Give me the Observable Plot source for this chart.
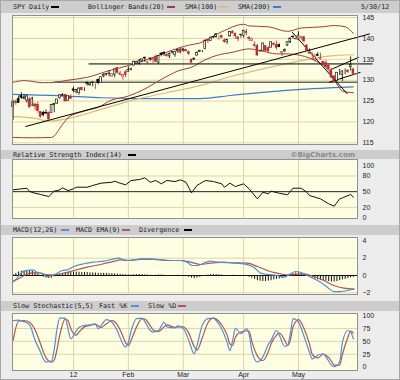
<!DOCTYPE html>
<html><head><meta charset="utf-8">
<script src="https://cdn.jsdelivr.net/npm/d3@7"></script>
<script src="https://cdn.jsdelivr.net/npm/@observablehq/plot@0.6"></script>
<style>
body{margin:0;background:#fff}
#wrap{position:relative;width:400px;height:380px;background:#ececec;overflow:hidden}
.bar{position:absolute;left:1px;width:398px;background:#cdcdcd;font-family:"DejaVu Sans Mono",monospace;font-size:6.7px;color:#1a1a1a}
.t{position:absolute;top:50%;transform:translateY(-50%);white-space:nowrap;line-height:1}
.sw{position:absolute;top:50%;height:2px;width:8px;margin-top:-1px}
.panel{position:absolute;left:0}
#border{position:absolute;left:0;top:0;width:398px;height:378px;border:1px solid #a8a8a8;pointer-events:none}
</style></head>
<body>
<div id="wrap">
  <div class="bar" style="top:0;height:13px">
    <span class="t" style="left:12px">SPY Daily</span><span class="sw" style="left:50px;background:#000"></span>
    <span class="t" style="left:87px">Bollinger Bands(20)</span><span class="sw" style="left:166px;background:#a03c3c"></span>
    <span class="t" style="left:184px">SMA(100)</span><span class="sw" style="left:218px;background:#d9bc78"></span>
    <span class="t" style="left:237px">SMA(200)</span><span class="sw" style="left:272px;background:#3d7cc9"></span>
    <span class="t" style="left:360px">5/30/12</span>
  </div>
  <div class="bar" style="top:150px;height:9px">
    <span class="t" style="left:12px">Relative Strength Index(14)</span><span class="sw" style="left:127px;background:#000"></span>
    <span class="t" style="right:44px;font-family:'DejaVu Sans',sans-serif;font-weight:bold;font-size:7px;color:#8a8a8a">©BigCharts.com</span>
  </div>
  <div class="bar" style="top:225px;height:10px">
    <span class="t" style="left:12px">MACD(12,26)</span><span class="sw" style="left:60px;background:#4f8fd8"></span>
    <span class="t" style="left:75px">MACD EMA(9)</span><span class="sw" style="left:121px;background:#b05555"></span>
    <span class="t" style="left:138px">Divergence</span><span class="sw" style="left:183px;background:#000"></span>
  </div>
  <div class="bar" style="top:301px;height:10px">
    <span class="t" style="left:12px">Slow Stochastic(5,5)</span>
    <span class="t" style="left:98px">Fast %K</span><span class="sw" style="left:130px;background:#4f8fd8"></span>
    <span class="t" style="left:147px">Slow %D</span><span class="sw" style="left:177px;background:#b05555"></span>
  </div>
  <div id="p1" class="panel" style="top:15px"></div>
  <div id="p2" class="panel" style="top:159px"></div>
  <div id="p3" class="panel" style="top:237px"></div>
  <div id="p4" class="panel" style="top:313px"></div>
  <div id="border"></div>
</div>
<script>
// ---------- data ----------
const dates = ["11/30",
"12/1","12/2","12/5","12/6","12/7","12/8","12/9","12/12","12/13","12/14","12/15","12/16","12/19","12/20","12/21","12/22","12/23","12/27","12/28","12/29","12/30",
"1/3","1/4","1/5","1/6","1/9","1/10","1/11","1/12","1/13","1/17","1/18","1/19","1/20","1/23","1/24","1/25","1/26","1/27","1/30","1/31",
"2/1","2/2","2/3","2/6","2/7","2/8","2/9","2/10","2/13","2/14","2/15","2/16","2/17","2/21","2/22","2/23","2/24","2/27","2/28","2/29",
"3/1","3/2","3/5","3/6","3/7","3/8","3/9","3/12","3/13","3/14","3/15","3/16","3/19","3/20","3/21","3/22","3/23","3/26","3/27","3/28","3/29","3/30",
"4/2","4/3","4/4","4/5","4/9","4/10","4/11","4/12","4/13","4/16","4/17","4/18","4/19","4/20","4/23","4/24","4/25","4/26","4/27","4/30",
"5/1","5/2","5/3","5/4","5/7","5/8","5/9","5/10","5/11","5/14","5/15","5/16","5/17","5/18","5/21","5/22","5/23","5/24","5/25","5/29","5/30"];

const open = [123.5,
124.8,125.5,126.2,125.6,125.1,125.4,123.9,124.2,124.1,122.4,
122.2,122.2,122.2,122.1,124.0,124.4,125.7,126.2,126.5,125.0,
126.0,
127.8,127.2,127.0,128.2,128.0,129.4,128.8,129.4,128.8,130.1,
129.3,130.9,131.2,131.6,130.9,131.3,132.9,131.2,130.9,131.9,
132.0,132.5,133.5,133.9,134.0,134.7,135.4,134.2,135.0,134.9,
135.6,134.2,136.4,136.5,136.0,135.7,136.7,136.0,136.9,137.4,
137.0,137.2,136.7,134.9,134.9,135.9,136.8,137.0,137.5,139.7,
139.4,140.2,140.3,140.5,140.6,139.5,139.2,140.5,141.6,141.1,
139.8,140.9,
140.6,141.6,140.2,139.4,138.4,138.2,136.9,137.0,138.2,137.7,
137.8,138.7,138.4,138.4,136.5,136.9,138.3,139.0,140.3,139.9,
139.7,140.1,140.3,138.3,136.4,136.3,135.0,136.1,135.0,134.4,
134.1,133.5,132.5,130.9,129.9,132.0,131.3,132.3,132.2,133.1,
132.6];
const high = [125.2,
125.3,126.2,127.0,126.6,126.5,125.8,125.9,124.4,124.8,122.5,
122.6,122.9,122.4,124.2,124.4,125.4,126.5,126.8,126.6,126.3,
126.5,
128.4,127.8,128.2,128.2,128.2,129.6,129.4,129.6,129.1,130.3,
130.7,131.6,131.6,132.3,131.5,132.7,133.1,132.1,131.3,132.3,
133.2,132.9,134.6,134.5,134.9,135.0,135.5,134.5,135.3,135.3,
136.0,135.9,136.5,136.9,136.3,136.5,136.8,137.0,137.3,137.9,
137.6,137.4,137.0,135.1,135.3,136.8,137.2,137.1,139.6,139.9,
140.3,140.5,141.2,140.6,140.8,139.9,139.7,141.6,141.9,141.3,
140.4,141.0,
142.0,142.2,140.4,140.1,139.2,138.6,137.2,138.9,138.2,138.0,
139.2,139.0,139.4,138.7,136.8,137.5,139.1,140.1,140.7,140.1,
141.6,140.5,140.5,138.6,137.5,136.5,136.2,136.6,136.5,134.6,
134.7,134.0,132.8,131.1,131.8,132.6,132.2,132.7,132.6,135.6,
132.7];
const low = [120.4,
124.0,124.4,125.4,125.3,124.5,123.3,123.8,122.7,122.1,120.9,
121.2,121.7,120.3,122.0,122.2,124.2,125.4,126.0,124.8,124.9,
125.5,
127.0,126.7,126.4,127.4,127.3,128.6,128.5,128.4,127.8,128.9,
129.2,130.6,131.0,130.8,130.7,130.6,131.5,131.0,130.0,130.6,
131.9,132.2,133.4,133.7,133.6,134.2,134.3,133.8,134.5,133.9,
134.2,133.8,135.6,135.7,135.5,135.2,136.3,135.5,136.4,136.3,
136.7,136.8,135.9,134.1,134.7,135.8,136.6,136.6,137.3,138.8,
139.3,140.0,140.1,139.6,140.0,138.8,138.6,140.3,141.1,139.9,
139.2,140.1,
140.1,140.6,139.3,139.2,137.9,135.8,136.6,136.9,136.9,136.4,
137.7,138.2,137.2,137.8,135.7,136.6,138.1,138.8,139.8,139.6,
139.5,139.6,138.9,137.0,136.3,134.9,134.4,135.7,134.8,133.6,
132.9,132.4,130.5,129.3,129.6,131.1,129.7,131.3,131.6,132.2,
131.2];
const close = [124.9,
124.5,124.5,125.8,125.9,126.1,123.5,125.6,123.7,122.6,121.2,
121.6,122.0,120.6,124.1,124.3,125.4,126.4,126.5,124.9,126.3,
125.5,
127.5,127.7,128.0,127.6,128.0,129.1,129.2,129.5,128.8,129.3,
130.7,131.3,131.5,131.5,131.4,132.6,131.8,131.6,131.3,131.2,
132.4,132.6,134.4,134.4,134.7,135.0,135.2,134.3,135.2,135.1,
134.4,135.8,136.1,136.2,135.8,136.3,136.6,136.7,137.2,136.6,
137.4,136.9,136.3,134.2,135.2,136.5,137.0,137.0,139.5,139.4,
140.2,140.4,141.0,140.5,140.2,139.2,139.7,141.6,141.2,140.5,
140.3,140.8,
141.8,141.3,139.9,139.8,138.2,135.9,136.9,138.8,137.0,136.9,
139.1,138.5,137.7,137.9,136.7,137.2,139.1,140.0,140.4,139.8,
140.7,140.3,139.3,137.0,137.0,136.4,135.5,135.8,135.3,133.8,
133.1,132.6,130.6,129.7,131.8,132.0,132.1,132.3,132.0,133.6,
131.5];

// Bollinger bands (20), read at sample days
const bbUpperDays = [0,4,11,15,20,27,35,42,50,58,64,68,76,84,86,93,100,105,113,117,121,124];
const bbUpper     = [129.5,129.9,129.4,129.5,130.0,130.7,132.3,133.5,135.2,137.2,138.4,138.9,141.6,143.4,143.0,142.8,141.7,142.5,142.8,143.1,142.8,141.2];
const bbLowerDays = [0,7,14,18,20,26,32,35,42,48,54,60,66,68,74,80,86,90,96,100,105,110,115,118,120,124];
const bbLower     = [116.3,116.2,116.3,119.4,121.0,122.6,123.8,125.0,126.2,127.9,130.2,132.2,133.4,134.2,135.9,136.7,137.5,137.1,136.3,136.3,135.9,134.7,132.3,129.1,127.4,127.0];
// moving averages
const sma100Days = [0,8,13,20,32,44,56,68,80,93,105,117,124];
const sma100     = [121.3,120.9,120.2,120.8,123.0,125.3,127.0,128.7,131.0,133.0,134.7,135.9,136.1];
const sma200Days = [0,20,32,44,68,80,93,105,117,124];
const sma200     = [126.6,126.2,125.8,125.6,125.6,126.4,127.2,127.8,128.2,128.4];
// hand-drawn trend lines [day1, price1, day2, price2]
const blackTrends = [[4.5,118.9,130,141.1],[27.5,133.9,131,133.9],[101.7,141.5,121.8,126.7],[115.1,129.5,126.6,131.9],[116.3,132.7,126,135.5]];
const grayTrends  = [[14.7,129.5,125.5,129.5]];

// RSI(14)
const rsiDays = [0,3,5,6,8,10,13,15,17,18,20,22,23,27,29,32,36,37,39,41,43,46,48,50,52,54,56,59,61,63,65,67,68,70,73,76,77,79,81,84,86,89,91,93,94,97,100,102,105,107,108,112,115,117,119,120,123,124];
const rsi     = [53.5,55.4,56.6,50.3,47,44.6,40.7,51,53.5,57.4,52,55.4,58.5,58.5,61.8,66.2,68,70,66.2,63.1,71.3,73.2,76.4,68,71.3,65,71.3,69.4,72.6,68,47.8,61.8,65,71.3,69.4,65,58.5,66.2,59.8,65,55.4,36.3,49,45.9,51,47,44,56.6,56.6,49,42.6,36.3,26.8,22.2,36.3,38.2,44.6,39.4];

// MACD(12,26), EMA(9), divergence
const macdDays = [0,1.5,3.3,5.1,7,8.8,10.6,12.4,14.2,16.1,17.9,19.7,22.1,25.8,29.4,33.1,36.7,38.5,40.3,42.8,46.4,50.1,53.7,57.4,61,63.4,65.3,67.1,69.5,71.9,74.4,76.8,80.4,84.1,87.7,90.2,92.6,96.2,98.7,101.1,102.9,104.7,107.2,109.6,112,114.5,116.9,119.3,121.8,124.2];
const macd     = [-0.77,-0.27,0.38,0.58,0.65,0.38,0.19,-0.12,0,0.27,0.58,0.65,1.04,1.35,1.54,1.65,1.92,2.0,1.81,1.73,1.92,1.92,1.81,1.73,1.73,1.54,1.15,1.15,1.42,1.65,1.54,1.54,1.42,1.35,0.96,0.27,0.12,0,-0.19,0.19,0.46,0.38,0,-0.38,-0.77,-1.35,-1.85,-1.85,-1.73,-1.54];
const sigDays  = [0,2.7,5.1,7.5,10,12.4,14.8,18.5,22.1,27,31.9,36.7,39.1,41.6,46.4,51.3,56.2,61,64.7,68.3,71.9,75.6,80.4,85.3,89,92.6,96.2,99.9,103.5,105.9,109.6,113.2,116.9,120.5,124.2];
const signal   = [-0.65,-0.27,0.19,0.31,0.27,0.08,0.08,0.27,0.58,0.96,1.27,1.62,1.81,1.73,1.85,1.85,1.73,1.73,1.54,1.27,1.42,1.5,1.46,1.42,1.04,0.58,0.27,0.08,0.12,0.19,-0.12,-0.58,-1.15,-1.46,-1.58];
const divergence = [0.1,0.25,
0.4,0.5,0.55,0.6,0.55,0.5,0.35,
0.15,-0.05,
-0.2,-0.3,-0.35,-0.3,
-0.15,0.0,
0.15,0.25,0.3,0.35,0.35,0.4,0.4,0.38,0.35,0.35,0.33,0.3,0.3,0.28,0.25,0.25,0.25,0.22,0.2,0.2,0.18,0.15,0.12,0.1,0.08,
0.05,0.05,0.1,0.1,0.12,0.1,0.08,0.05,0.02,0.0,0.02,0.05,0.05,0.03,0.0,0.0,-0.02,0.0,0.02,0.0,-0.05,
-0.1,-0.2,-0.3,-0.35,-0.3,-0.2,-0.1,
0.0,0.05,0.1,0.12,0.1,0.08,0.05,0.0,-0.05,
0.0,0.02,0.0,-0.05,-0.08,-0.1,-0.12,-0.2,
-0.3,-0.45,-0.6,-0.65,-0.7,-0.7,-0.65,-0.6,-0.5,-0.45,-0.4,-0.35,-0.25,
-0.1,0.05,0.2,0.3,0.3,0.25,0.15,
0.0,-0.15,-0.3,-0.4,-0.5,-0.55,-0.6,-0.65,-0.7,-0.75,-0.75,-0.7,-0.6,-0.5,-0.45,
-0.35,-0.25,-0.2];

// Slow stochastic (5,5)
const stochDays = [0,2,4,6,8,10,11,12,14,15,16,17,19,20,21,23,24,26,28,30,31,32,34,36,38,40,41,42,43,45,47,48,50,51,53,55,56,59,60,62,64,66,67,69,71,73,74,76,78,79,80,81,83,85,86,87,89,91,93,94,96,97,99,100,101,102,104,106,108,109,111,113,114,116,117,119,120,122,123,124];
const fastK = [90,91,88,82,52,29,16,10,12,35,74,95,95,74,55,70,77,81,82,84,74,80,92,87,70,45,39,48,70,94,95,88,71,68,71,87,78,76,80,75,52,26,42,82,94,95,90,74,48,32,52,75,65,74,64,32,10,20,44,52,71,62,40,42,64,94,87,60,29,16,23,26,20,4,1,10,48,71,68,55];
const slowD = [52,89,90,87,72,45,30,18,10,14,35,62,93,90,75,62,68,78,81,83,80,77,84,90,82,60,47,42,52,78,94,93,80,72,69,78,82,77,78,78,66,40,33,58,86,95,93,82,62,45,42,58,68,70,70,50,22,13,30,45,62,66,52,42,52,78,92,75,45,25,18,25,23,12,4,4,25,58,70,66];

// axes
const monthTicks  = [22,42,62,84,104];
const monthLabels = ["12","Feb","Mar","Apr","May"];
const priceTicks = [115,120,125,130,135,140,145];
const rsiTicks   = [0,20,50,80,100];
const macdTicks  = [-2,0,2,4];
const stochTicks = [0,25,50,75,100];

// ---------- drawing ----------
const BG = "#fefee3", GRID = "#dcd6a6", RED = "#c0282a", BLUE = "#4f8fd8", DRED = "#b05555";
const rows = dates.map((d, i) => ({i, date: d, o: open[i], h: high[i], l: low[i], c: close[i], p: i ? close[i-1] : open[i]}));
const col = d => d.c < d.p ? RED : "#000";
const X = {domain: [-0.23, 125.5], axis: null};
const base = {
  width: 400, marginLeft: 12, marginRight: 43, marginTop: 0, marginBottom: 0,
  style: "overflow:visible;background:transparent;font-family:'Liberation Sans',Arial,sans-serif;font-size:7px;color:#222"
};
const rightAxis = t => Plot.axisY(t, {anchor: "right", tickSize: 0, tickPadding: 5, fontSize: 7, label: null});
const pts = (days, vals) => days.map((d, k) => ({d, v: vals[k]}));
const seg = a => a.map(s => ({x1: s[0], y1: s[1], x2: s[2], y2: s[3]}));

const p1 = Plot.plot({...base, height: 129, x: X, y: {domain: [114.6, 145.5], axis: null},
  marks: [
    Plot.frame({fill: BG}),
    Plot.ruleY(priceTicks, {stroke: GRID}),
    Plot.ruleX(monthTicks, {stroke: GRID}),
    Plot.line(pts(sma200Days, sma200), {x: "d", y: "v", stroke: "#3d7cc9", strokeWidth: 1.2, curve: "monotone-x"}),
    Plot.line(pts(sma100Days, sma100), {x: "d", y: "v", stroke: "#d9bc78", strokeWidth: 1.2, curve: "monotone-x"}),
    Plot.line(pts(bbUpperDays, bbUpper), {x: "d", y: "v", stroke: "#a03c3c", strokeWidth: 1, curve: "monotone-x"}),
    Plot.line(pts(bbLowerDays, bbLower), {x: "d", y: "v", stroke: "#a03c3c", strokeWidth: 1, curve: "monotone-x"}),
    Plot.link(seg(grayTrends), {x1: "x1", y1: "y1", x2: "x2", y2: "y2", stroke: "#666", strokeWidth: 1.5}),
    Plot.link(seg(blackTrends), {x1: "x1", y1: "y1", x2: "x2", y2: "y2", stroke: "#000", strokeWidth: 1}),
    Plot.ruleX(rows, {x: "i", y1: "l", y2: "h", stroke: col, strokeWidth: 0.8}),
    Plot.rect(rows, {x1: d => d.i - 0.33, x2: d => d.i + 0.33, y1: d => Math.min(d.o, d.c), y2: d => Math.max(d.o, d.c),
      fill: d => d.c < d.o ? col(d) : "#fff", stroke: col, strokeWidth: 0.6}),
    Plot.frame({stroke: "#909090"}),
    rightAxis(priceTicks)
  ]});
document.getElementById("p1").append(p1);

const p2 = Plot.plot({...base, height: 59, x: X, y: {domain: [-1.3, 111.5], axis: null},
  marks: [
    Plot.frame({fill: BG}),
    Plot.ruleY([20, 80], {stroke: GRID}),
    Plot.ruleX(monthTicks, {stroke: GRID}),
    Plot.ruleY([50], {stroke: "#222", strokeWidth: 1}),
    Plot.line(pts(rsiDays, rsi), {x: "d", y: "v", stroke: "#111", strokeWidth: 1}),
    Plot.frame({stroke: "#909090"}),
    rightAxis(rsiTicks)
  ]});
document.getElementById("p2").append(p2);

const p3 = Plot.plot({...base, height: 57, x: X, y: {domain: [-2.19, 4.38], axis: null},
  marks: [
    Plot.frame({fill: BG}),
    Plot.ruleY([-2, 2], {stroke: GRID}),
    Plot.ruleX(monthTicks, {stroke: GRID}),
    Plot.ruleX(divergence.map((v, i) => ({i, v})), {x: "i", y1: 0, y2: "v", stroke: "#111", strokeWidth: 1}),
    Plot.ruleY([0], {stroke: "#111", strokeWidth: 1}),
    Plot.line(pts(sigDays, signal), {x: "d", y: "v", stroke: DRED, strokeWidth: 1.2, curve: "monotone-x"}),
    Plot.line(pts(macdDays, macd), {x: "d", y: "v", stroke: BLUE, strokeWidth: 1.2, curve: "monotone-x"}),
    Plot.frame({stroke: "#909090"}),
    rightAxis(macdTicks)
  ]});
document.getElementById("p3").append(p3);

const p4 = Plot.plot({...base, height: 57, x: X, y: {domain: [-6.4, 103.9], axis: null},
  marks: [
    Plot.frame({fill: BG}),
    Plot.ruleY([25, 50, 75], {stroke: GRID}),
    Plot.ruleX(monthTicks, {stroke: GRID}),
    Plot.line(pts(stochDays, slowD), {x: "d", y: "v", stroke: DRED, strokeWidth: 1.2, curve: "monotone-x"}),
    Plot.line(pts(stochDays, fastK), {x: "d", y: "v", stroke: BLUE, strokeWidth: 1.2, curve: "monotone-x"}),
    Plot.frame({stroke: "#909090"}),
    rightAxis(stochTicks),
    Plot.axisX(monthTicks, {anchor: "bottom", tickSize: 0, tickPadding: 2, fontSize: 7, label: null,
      tickFormat: d => monthLabels[monthTicks.indexOf(d)]})
  ]});
document.getElementById("p4").append(p4);
</script>
</body></html>
